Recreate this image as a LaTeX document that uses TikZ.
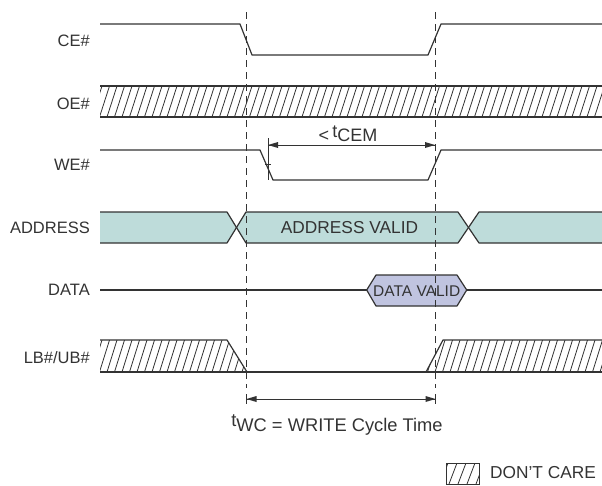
\documentclass[tikz,border=0pt]{standalone}
\usepackage{fontspec}
\setmainfont{Liberation Sans}
\usetikzlibrary{arrows.meta}
\definecolor{ink}{HTML}{333333}
\definecolor{addr}{HTML}{BEDCDA}
\definecolor{dval}{HTML}{C0C4E0}
\tikzset{
  sig/.style={draw=ink, line width=1.2pt, line join=round},
  lbl/.style={anchor=east, text=ink, inner sep=0pt, font=\fontsize{16.5}{19}\selectfont},
  txt/.style={text=ink, inner sep=0pt, font=\fontsize{17.3}{20}\selectfont},
  guide/.style={draw=ink, line width=1pt, dash pattern=on 7pt off 5pt},
  hatchline/.style={draw=ink, line width=0.8pt},
  dimline/.style={draw=ink, line width=1pt},
  headfill/.style={fill=ink},
  tickline/.style={draw=ink, line width=1pt}
}
\begin{document}
\begin{tikzpicture}[x=1pt,y=-1pt]
\useasboundingbox (0,0) rectangle (602,485);

% labels
\node[lbl] (lce) at (90,41) {CE\#};
\node[lbl] (loe) at (90,104) {OE\#};
\node[lbl] (lwe) at (90,165) {WE\#};
\node[lbl] (lad) at (90,227.5) {ADDRESS};
\node[lbl] (lda) at (90,290) {DATA};
\node[lbl] (llb) at (90,358) {LB\#/UB\#};

% CE#
\draw[sig] (100,24) -- (240,24) -- (252,55) -- (428,55) -- (441,24) -- (602,24);

% OE# hatched band
\begin{scope}
  \clip (100,86) rectangle (602,117);
  \foreach \x in {92,99.5,...,615} \draw[hatchline] (\x,117) -- (\x+10,86);
\end{scope}
\draw[sig] (100,86) -- (602,86);
\draw[sig] (100,117) -- (602,117);

% WE#
\draw[sig] (100,150) -- (260,150) -- (273,180) -- (428,180) -- (441,150) -- (602,150);

% ADDRESS
\fill[addr] (100,212) -- (227,212) -- (236.5,227.5) -- (227,243) -- (100,243) -- cycle;
\draw[sig] (100,212) -- (227,212) -- (236.5,227.5) -- (227,243) -- (100,243);
\filldraw[sig, fill=addr] (236.5,227.5) -- (246,212) -- (458,212) -- (468.5,227.5) -- (458,243) -- (246,243) -- cycle;
\fill[addr] (468.5,227.5) -- (479,212) -- (602,212) -- (602,243) -- (479,243) -- cycle;
\draw[sig] (602,212) -- (479,212) -- (468.5,227.5) -- (479,243) -- (602,243);
\node[txt] (addrvalid) at (349.5,228) {ADDRESS VALID};

% DATA
\draw[sig] (100,290) -- (366.7,290);
\filldraw[sig, fill=dval] (366.7,290) -- (376,275) -- (457,275) -- (466.7,290) -- (457,306) -- (376,306) -- cycle;
\draw[sig] (466.7,290) -- (602,290);
\node[txt, font=\fontsize{15.5}{18}\selectfont] (datavalid) at (416.7,291) {DATA VALID};

% LB#/UB#
\begin{scope}
  \clip (100,340) -- (227,340) -- (247,372) -- (100,372) -- cycle;
  \foreach \x in {92,99.5,...,260} \draw[hatchline] (\x,372) -- (\x+10,340);
\end{scope}
\draw[sig] (100,340) -- (227,340) -- (247,372);
\begin{scope}
  \clip (426,372) -- (443,340) -- (602,340) -- (602,372) -- cycle;
  \foreach \x in {420,427.5,...,615} \draw[hatchline] (\x,372) -- (\x+10,340);
\end{scope}
\draw[sig] (426,372) -- (443,340) -- (602,340);
\draw[sig] (100,372) -- (602,372);

% guides
\draw[guide] (246.5,12) -- (246.5,388);
\draw[guide] (435,12) -- (435,388);

% tCEM
\coordinate (cemL) at (268,145);
\coordinate (cemR) at (435,145);
\draw[tickline] (268,138) -- (268,180);
\draw[tickline] (265,164) -- (271,164);
\draw[dimline] (cemL) -- (cemR);
\fill[headfill] (cemL) -- ++(10,-3) -- ++(0,6) -- cycle;
\fill[headfill] (cemR) -- ++(-10,-3) -- ++(0,6) -- cycle;
\node[txt, anchor=base, font=\fontsize{18}{20}\selectfont] (tcem) at (348,141) {<\,\raisebox{4pt}{t}CEM};

% tWC
\coordinate (wcL) at (246.5,399);
\coordinate (wcR) at (435.5,399);
\draw[tickline] (246.5,394) -- (246.5,404);
\draw[tickline] (435.5,394) -- (435.5,404);
\draw[dimline] (wcL) -- (wcR);
\fill[headfill] (wcL) -- ++(10,-3) -- ++(0,6) -- cycle;
\fill[headfill] (wcR) -- ++(-10,-3) -- ++(0,6) -- cycle;
\node[txt, anchor=base, font=\fontsize{18.3}{20}\selectfont] (twc) at (337,431) {\raisebox{5pt}{t}WC = WRITE Cycle Time};

% legend
\begin{scope}
  \clip (446,463) rectangle (479,484);
  \foreach \x in {440,449,...,485} \draw[hatchline] (\x,484) -- (\x+8,463);
\end{scope}
\draw[draw=ink, line width=1pt] (446,463) rectangle (479,484);
\node[txt, anchor=west] (dontcare) at (490,473) {DON'T CARE};
\end{tikzpicture}
\end{document}
